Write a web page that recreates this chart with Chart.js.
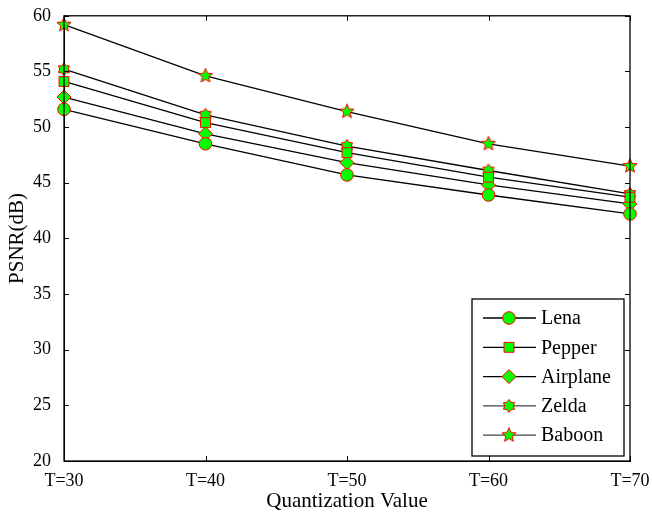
<!DOCTYPE html>
<html>
<head>
<meta charset="utf-8">
<script src="https://cdn.jsdelivr.net/npm/chart.js@4"></script>
<style>
  body { margin: 0; background: #fff; }
  canvas { display: block; }
</style>
</head>
<body>
<canvas id="psnr" width="652" height="515"></canvas>
<script>
// data
var categories = ['T=30', 'T=40', 'T=50', 'T=60', 'T=70'];
var lena     = [51.6, 48.5, 45.7, 43.9, 42.2];
var pepper   = [54.1, 50.4, 47.7, 45.5, 43.7];
var airplane = [52.7, 49.4, 46.8, 44.8, 43.1];
var zelda    = [55.2, 51.1, 48.3, 46.1, 44.0];
var baboon   = [59.2, 54.6, 51.4, 48.5, 46.5];

var serif = '"Liberation Serif", "DejaVu Serif", serif';
var green = '#00ff00';
var red = '#ff0000';

// star markers as small canvases
function starCanvas(points, outer, inner) {
    var size = Math.ceil(outer * 2 + 3);
    var c = document.createElement('canvas');
    c.width = size; c.height = size;
    var g = c.getContext('2d');
    var cx = size / 2, cy = size / 2;
    g.beginPath();
    for (var i = 0; i < points * 2; i++) {
        var r = (i % 2 === 0) ? outer : inner;
        var a = -Math.PI / 2 + i * Math.PI / points;
        var x = cx + r * Math.cos(a), y = cy + r * Math.sin(a);
        if (i === 0) g.moveTo(x, y); else g.lineTo(x, y);
    }
    g.closePath();
    g.fillStyle = green;
    g.fill();
    g.strokeStyle = red;
    g.lineWidth = 1;
    g.stroke();
    return c;
}
var hexStar = starCanvas(6, 6.5, 4.2);
var pentStar = starCanvas(5, 7.5, 3.4);

function series(label, data, style, radius) {
    return {
        label: label,
        data: data,
        borderColor: '#000',
        borderWidth: 1.3,
        backgroundColor: green,
        pointBackgroundColor: green,
        pointBorderColor: red,
        pointBorderWidth: 1,
        pointStyle: style,
        pointRadius: radius,
        pointHoverRadius: radius,
        tension: 0,
        fill: false
    };
}

var boxPlugin = {
    id: 'box',
    afterDatasetsDraw: function (chart) {
        var ctx = chart.ctx, a = chart.chartArea;
        var xs = chart.scales.x, ys = chart.scales.y;
        ctx.save();
        ctx.strokeStyle = '#000';
        ctx.lineWidth = 1.3;
        ctx.strokeRect(a.left, a.top, a.right - a.left, a.bottom - a.top);
        ctx.beginPath();
        ys.ticks.forEach(function (t) {
            var y = Math.round(ys.getPixelForValue(t.value)) + 0.5;
            ctx.moveTo(a.left, y); ctx.lineTo(a.left + 5, y);
            ctx.moveTo(a.right, y); ctx.lineTo(a.right - 5, y);
        });
        categories.forEach(function (c, i) {
            var x = Math.round(xs.getPixelForValue(i)) + 0.5;
            ctx.moveTo(x, a.bottom); ctx.lineTo(x, a.bottom - 5);
            ctx.moveTo(x, a.top); ctx.lineTo(x, a.top + 5);
        });
        ctx.lineWidth = 1;
        ctx.stroke();

        // legend in the lower right corner
        var w = 152, h = 157;
        var lx = a.right - 6 - w, ly = a.bottom - 5 - h;
        ctx.fillStyle = '#fff';
        ctx.fillRect(lx, ly, w, h);
        ctx.strokeStyle = '#000';
        ctx.lineWidth = 1.3;
        ctx.strokeRect(lx, ly, w, h);
        ctx.font = '20px ' + serif;
        ctx.textBaseline = 'middle';
        chart.data.datasets.forEach(function (ds, i) {
            var y = ly + 19 + i * 29.3;
            ctx.beginPath();
            ctx.strokeStyle = i < 3 ? '#000' : '#444';
            ctx.lineWidth = 1.3;
            ctx.moveTo(lx + 11, y); ctx.lineTo(lx + 64, y);
            ctx.stroke();
            ctx.fillStyle = green;
            ctx.strokeStyle = red;
            ctx.lineWidth = 1;
            Chart.helpers.drawPoint(ctx, {
                pointStyle: ds.pointStyle,
                radius: ds.pointRadius,
                borderWidth: 1,
                rotation: 0
            }, lx + 37, y);
            ctx.fillStyle = '#000';
            ctx.fillText(ds.label, lx + 69, y + 1);
        });
        ctx.restore();
    }
};

new Chart(document.getElementById('psnr'), {
    type: 'line',
    data: {
        labels: categories,
        datasets: [
            series('Lena', lena, 'circle', 6.3),
            series('Pepper', pepper, 'rect', 7),
            series('Airplane', airplane, 'rectRot', 7),
            series('Zelda', zelda, hexStar, 6),
            series('Baboon', baboon, pentStar, 7)
        ]
    },
    options: {
        responsive: false,
        animation: false,
        layout: { padding: { left: 0, right: 22, top: 15, bottom: 0 } },
        plugins: {
            legend: { display: false },
            tooltip: { enabled: false }
        },
        scales: {
            x: {
                offset: false,
                grid: { display: false },
                border: { display: true, color: '#000' },
                ticks: { color: '#000', padding: 1, maxRotation: 0, font: { family: serif, size: 18 } },
                title: { display: true, text: 'Quantization Value', color: '#000', padding: { top: 0, bottom: 1 }, font: { family: serif, size: 21 } },
                afterFit: function (s) { s.height = 54; }
            },
            y: {
                min: 20,
                max: 60,
                grid: { display: false },
                border: { display: true, color: '#000' },
                ticks: { stepSize: 5, color: '#000', padding: 5, font: { family: serif, size: 18 } },
                title: { display: true, text: 'PSNR(dB)', color: '#000', padding: { top: 5, bottom: 0 }, font: { family: serif, size: 21 } },
                afterFit: function (s) { s.width = 64; }
            }
        }
    },
    plugins: [boxPlugin]
});
</script>
</body>
</html>
